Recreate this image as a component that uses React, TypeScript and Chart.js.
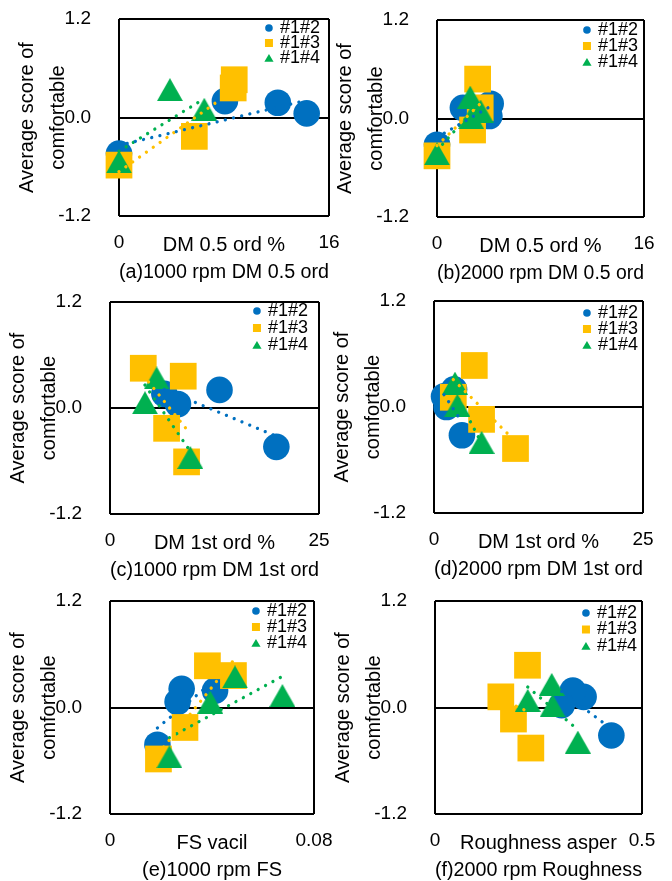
import React, { useEffect, useRef } from 'react';
import { Chart, registerables } from 'chart.js';

Chart.register(...registerables);

const FONT = '"Liberation Sans", Arial, Helvetica, sans-serif';

// ---------- shared labels ----------
const seriesLabels = ['#1#2', '#1#3', '#1#4'];
const seriesColors = ['#0070C0', '#FFC000', '#00B050'];
const yTickValues = [-1.2, 0, 1.2];
const yTickLabels = ['-1.2', '0.0', '1.2'];
const yAxisTitle = ['Average score of', 'comfortable'];

// ---------- panel (a) 1000 rpm DM 0.5 ord ----------
const aXTicks = [0, 16];
const aXTickLabels = ['0', '16'];
const aS12 = [[0.0, -0.44], [8.07, 0.2], [12.1, 0.18], [14.3, 0.05]];
const aS13 = [[0.0, -0.58], [5.74, -0.23], [8.7, 0.36], [8.78, 0.46]];
const aS14 = [[0.0, -0.54], [3.88, 0.34], [6.5, 0.1]];
const aT12 = [[0.0, -0.34], [14.3, 0.21]];
const aT13 = [[0.0, -0.66], [8.78, 0.34]];
const aT14 = [[0.0, -0.41], [6.5, 0.23]];

// ---------- panel (b) 2000 rpm DM 0.5 ord ----------
const bXTicks = [0, 16];
const bXTickLabels = ['0', '16'];
const bS12 = [[0.0, -0.32], [2.0, 0.13], [4.15, 0.18], [4.05, 0.03]];
const bS13 = [[0.0, -0.455], [3.14, 0.48], [2.75, -0.14], [3.34, 0.13]];
const bS14 = [[0.0, -0.43], [2.57, 0.26], [2.65, 0.01], [3.37, 0.09]];
const bT12 = [[0.0, -0.23], [4.15, 0.15]];
const bT13 = [[0.0, -0.33], [3.34, 0.18]];
const bT14 = [[0.0, -0.39], [3.4, 0.21]];

// ---------- panel (c) 1000 rpm DM 1st ord ----------
const cXTicks = [0, 25];
const cXTickLabels = ['0', '25'];
const cS12 = [[19.9, -0.44], [13.1, 0.205], [8.13, 0.045], [6.5, 0.16]];
const cS13 = [[3.98, 0.45], [8.76, 0.36], [6.77, -0.23], [9.16, -0.61]];
const cS14 = [[5.58, 0.34], [4.18, 0.06], [9.6, -0.56]];
const cT12 = [[6.5, 0.21], [19.9, -0.32]];
const cT13 = [[3.98, 0.37], [9.16, -0.24]];
const cT14 = [[4.18, 0.26], [9.6, -0.49]];

// ---------- panel (d) 2000 rpm DM 1st ord ----------
const dXTicks = [0, 25];
const dXTickLabels = ['0', '25'];
const dS12 = [[1.2, 0.12], [1.5, 0.0], [2.4, 0.2], [3.34, -0.32]];
const dS13 = [[4.82, 0.47], [2.31, 0.11], [5.69, -0.14], [9.75, -0.47]];
const dS14 = [[2.51, 0.27], [2.79, 0.02], [5.69, -0.4]];
const dT12 = [[1.2, 0.14], [3.34, -0.17]];
const dT13 = [[2.31, 0.31], [9.75, -0.39]];
const dT14 = [[2.51, 0.17], [5.69, -0.41]];

// ---------- panel (e) 1000 rpm FS ----------
const eXTicks = [0, 0.08];
const eXTickLabels = ['0', '0.08'];
const eS12 = [[0.0186, -0.42], [0.0281, 0.21], [0.0265, 0.064], [0.0412, 0.19]];
const eS13 = [[0.019, -0.58], [0.0294, -0.225], [0.0382, 0.47], [0.0484, 0.36]];
const eS14 = [[0.0233, -0.555], [0.0393, 0.06], [0.049, 0.345], [0.0676, 0.135]];
const eT12 = [[0.0186, -0.23], [0.0412, 0.31]];
const eT13 = [[0.019, -0.52], [0.0484, 0.53]];
const eT14 = [[0.0233, -0.34], [0.0676, 0.35]];

// ---------- panel (f) 2000 rpm Roughness ----------
const fXTicks = [0, 0.5];
const fXTickLabels = ['0', '0.5'];
const fS12 = [[0.426, -0.315], [0.359, 0.12], [0.333, 0.19], [0.306, 0.026]];
const fS13 = [[0.2234, 0.476], [0.159, 0.12], [0.1895, -0.13], [0.2315, -0.457]];
const fS14 = [[0.224, 0.08], [0.282, 0.26], [0.284, 0.02], [0.345, -0.39]];
const fT12 = [[0.306, 0.18], [0.426, -0.24]];
const fT13 = [[0.159, 0.09], [0.2315, -0.06]];
const fT14 = [[0.224, 0.23], [0.345, -0.25]];

const xTitles = ['DM 0.5 ord %', 'DM 0.5 ord %', 'DM 1st ord %', 'DM 1st ord %', 'FS vacil', 'Roughness asper'];
const captions = [
  '(a)1000 rpm DM 0.5 ord',
  '(b)2000 rpm DM 0.5 ord',
  '(c)1000 rpm DM 1st ord',
  '(d)2000 rpm DM 1st ord',
  '(e)1000 rpm FS',
  '(f)2000 rpm Roughness',
];

// ---------- layout (page pixel positions of each plot area) ----------
type Rect = { L: number; R: number; T: number; B: number };
type LegendPos = { right: number; top: number; gap: number };
type Panel = {
  rect: Rect;
  legend: LegendPos;
  xTicks: number[];
  xTickLabels: string[];
  xTitle: string;
  caption: string;
  series: number[][][];
  trends: number[][][];
};

const panels: Panel[] = [
  { rect: { L: 119, R: 329, T: 19, B: 216 }, legend: { right: 9, top: 9, gap: 15 }, xTicks: aXTicks, xTickLabels: aXTickLabels, xTitle: xTitles[0], caption: captions[0], series: [aS12, aS13, aS14], trends: [aT12, aT13, aT14] },
  { rect: { L: 437, R: 644, T: 20, B: 217 }, legend: { right: 6, top: 10, gap: 16 }, xTicks: bXTicks, xTickLabels: bXTickLabels, xTitle: xTitles[1], caption: captions[1], series: [bS12, bS13, bS14], trends: [bT12, bT13, bT14] },
  { rect: { L: 110, R: 319, T: 302, B: 514 }, legend: { right: 11, top: 9, gap: 17 }, xTicks: cXTicks, xTickLabels: cXTickLabels, xTitle: xTitles[2], caption: captions[2], series: [cS12, cS13, cS14], trends: [cT12, cT13, cT14] },
  { rect: { L: 434, R: 643, T: 301, B: 513 }, legend: { right: 5, top: 12, gap: 16 }, xTicks: dXTicks, xTickLabels: dXTickLabels, xTitle: xTitles[3], caption: captions[3], series: [dS12, dS13, dS14], trends: [dT12, dT13, dT14] },
  { rect: { L: 110, R: 314, T: 601, B: 814 }, legend: { right: 7, top: 10, gap: 16 }, xTicks: eXTicks, xTickLabels: eXTickLabels, xTitle: xTitles[4], caption: captions[4], series: [eS12, eS13, eS14], trends: [eT12, eT13, eT14] },
  { rect: { L: 435, R: 642, T: 601, B: 814 }, legend: { right: 5, top: 12, gap: 16.5 }, xTicks: fXTicks, xTickLabels: fXTickLabels, xTitle: xTitles[5], caption: captions[5], series: [fS12, fS13, fS14], trends: [fT12, fT13, fT14] },
];

const AXIS_W = 110; // room left of plot for tick labels + y title
const AXIS_H = 70; // room below plot for tick labels + x title + caption
const PAD_T = 40; // must exceed y tick half-height + tick padding
const PAD_R = 40; // must exceed last x tick half-width + tick padding

function makeTriangle(w: number, h: number, color: string) {
  const c = document.createElement('canvas');
  c.width = w;
  c.height = h;
  const ctx = c.getContext('2d')!;
  ctx.fillStyle = color;
  ctx.beginPath();
  ctx.moveTo(w / 2, 0);
  ctx.lineTo(w, h);
  ctx.lineTo(0, h);
  ctx.closePath();
  ctx.fill();
  return c;
}

const insideLegend = {
  id: 'insideLegend',
  afterDatasetsDraw(chart: any, _args: any, opts: any) {
    const { ctx, chartArea } = chart;
    ctx.save();
    ctx.font = `18px ${FONT}`;
    ctx.textBaseline = 'middle';
    ctx.textAlign = 'left';
    seriesLabels.forEach((label, i) => {
      const y = chartArea.top + opts.top + i * opts.gap;
      const tw = ctx.measureText(label).width;
      const tx = chartArea.right - opts.right - tw;
      const mx = tx - 11;
      ctx.fillStyle = seriesColors[i];
      ctx.beginPath();
      if (i === 0) {
        ctx.arc(mx, y, 3.8, 0, Math.PI * 2);
      } else if (i === 1) {
        ctx.rect(mx - 4, y - 4, 8, 8);
      } else {
        ctx.moveTo(mx, y - 4);
        ctx.lineTo(mx + 4.6, y + 3.8);
        ctx.lineTo(mx - 4.6, y + 3.8);
        ctx.closePath();
      }
      ctx.fill();
      ctx.fillStyle = '#000';
      ctx.fillText(label, tx, y);
    });
    ctx.restore();
  },
};

function PanelChart({ p }: { p: Panel }) {
  const ref = useRef<HTMLCanvasElement>(null);
  const W = p.rect.R - p.rect.L + AXIS_W + PAD_R;
  const H = p.rect.B - p.rect.T + PAD_T + AXIS_H;

  useEffect(() => {
    const canvas = ref.current;
    if (!canvas) return;
    const tri = makeTriangle(26, 23, seriesColors[2]);
    const styles: any[] = ['circle', 'rect', tri];
    const radii = [13.3, 18.9, 13];

    const scatterSets = p.series.map((pts, i) => ({
      type: 'scatter' as const,
      label: seriesLabels[i],
      data: pts.map(([x, y]) => ({ x, y })),
      pointStyle: styles[i],
      pointRadius: radii[i],
      pointHoverRadius: radii[i],
      backgroundColor: seriesColors[i],
      borderColor: seriesColors[i],
      borderWidth: 0,
      order: 3 - i,
      clip: false as any,
    }));
    const trendSets = p.trends.map((pts, i) => ({
      type: 'line' as const,
      label: seriesLabels[i] + ' trend',
      data: pts.map(([x, y]) => ({ x, y })),
      borderColor: seriesColors[i],
      backgroundColor: seriesColors[i],
      borderWidth: 3.3,
      borderDash: [0.01, 8.4],
      borderCapStyle: 'round' as const,
      pointRadius: 0,
      fill: false,
      tension: 0,
      order: 0,
      clip: false as any,
    }));

    const xMin = p.xTicks[0];
    const xMax = p.xTicks[p.xTicks.length - 1];

    const chart = new Chart(canvas, {
      type: 'scatter',
      data: { datasets: [...scatterSets, ...trendSets] as any },
      plugins: [insideLegend],
      options: {
        animation: false,
        responsive: false,
        devicePixelRatio: 1,
        events: [],
        layout: { padding: { top: PAD_T, right: PAD_R, left: 0, bottom: 0 } },
        plugins: {
          legend: { display: false },
          tooltip: { enabled: false },
          insideLegend: p.legend,
        } as any,
        scales: {
          x: {
            type: 'linear',
            min: xMin,
            max: xMax,
            afterBuildTicks: (s: any) => {
              s.ticks = p.xTicks.map((v) => ({ value: v }));
            },
            afterFit: (s: any) => {
              s.height = AXIS_H;
            },
            ticks: {
              autoSkip: false,
              maxRotation: 0,
              padding: 15,
              color: '#000',
              font: { family: FONT, size: 19 },
              callback: (_v: any, i: number) => p.xTickLabels[i],
            },
            grid: { display: true, drawTicks: false, color: '#000', lineWidth: 2 },
            border: { display: false },
            title: {
              display: true,
              text: [p.xTitle, p.caption],
              color: '#000',
              font: { family: FONT, size: 20, lineHeight: 27 / 20 },
              padding: { top: 0, bottom: 0 },
            },
          },
          y: {
            type: 'linear',
            position: 'left',
            min: yTickValues[0],
            max: yTickValues[yTickValues.length - 1],
            afterBuildTicks: (s: any) => {
              s.ticks = yTickValues.map((v) => ({ value: v }));
            },
            afterFit: (s: any) => {
              s.width = AXIS_W;
            },
            ticks: {
              autoSkip: false,
              padding: 28,
              color: '#000',
              font: { family: FONT, size: 19 },
              callback: (_v: any, i: number) => yTickLabels[i],
            },
            grid: { display: true, drawTicks: false, color: '#000', lineWidth: 2 },
            border: { display: false },
            title: {
              display: true,
              text: yAxisTitle,
              color: '#000',
              font: { family: FONT, size: 20, lineHeight: 31 / 20 },
              padding: { top: 3, bottom: 0 },
            },
          },
        },
      } as any,
    });
    return () => chart.destroy();
  }, [p]);

  return (
    <canvas
      ref={ref}
      width={W}
      height={H}
      style={{
        position: 'absolute',
        left: p.rect.L - AXIS_W,
        top: p.rect.T - PAD_T,
        width: W,
        height: H,
      }}
    />
  );
}

export default function App() {
  return (
    <div
      style={{
        position: 'absolute',
        left: 0,
        top: 0,
        width: 672,
        height: 881,
        overflow: 'hidden',
        background: '#fff',
      }}
    >
      {panels.map((p, i) => (
        <PanelChart key={i} p={p} />
      ))}
    </div>
  );
}
